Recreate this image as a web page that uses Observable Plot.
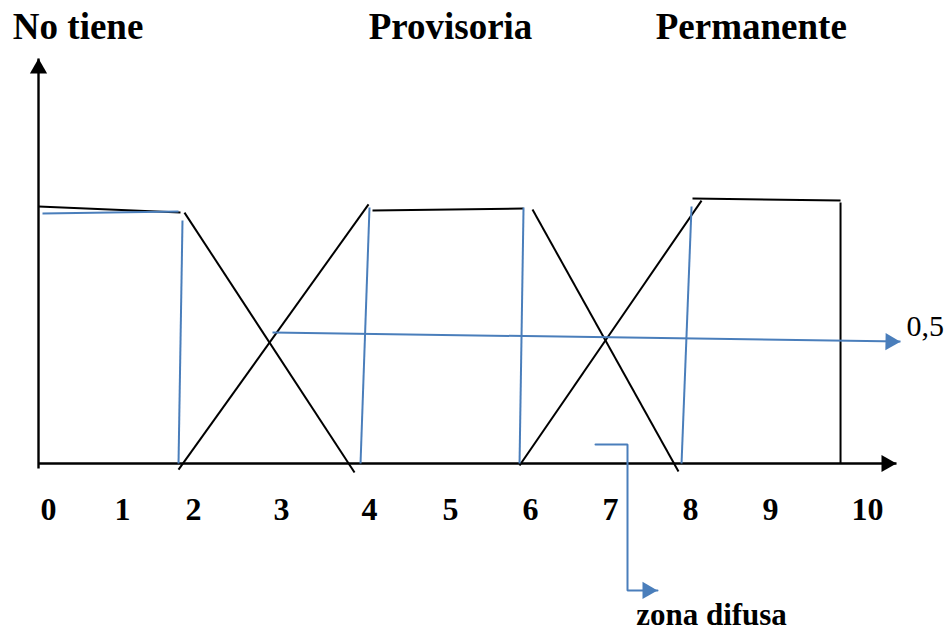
<!DOCTYPE html>
<html>
<head>
<meta charset="utf-8">
<script src="https://cdn.jsdelivr.net/npm/d3@7"></script>
<script src="https://cdn.jsdelivr.net/npm/@observablehq/plot@0.6"></script>
<style>
  html, body { margin: 0; padding: 0; background: #fff; }
  #chart svg { display: block; }
</style>
</head>
<body>
<div id="chart"></div>
<script>
// ---- data (x in axis-label units 0..10, y in membership degree 0..1) ----
const categories = ["No tiene", "Provisoria", "Permanente"];
const categoryX = [0.4, 5.0, 8.76];
const tickValues = [0, 1, 2, 3, 4, 5, 6, 7, 8, 9, 10];
const tickLabels = ["0", "1", "2", "3", "4", "5", "6", "7", "8", "9", "10"];

// black membership-function segments [x1, y1, x2, y2]
const blackSegments = [
  [-0.135, 1.008, 1.817, 0.984],   // No tiene plateau
  [1.873, 0.984, 3.830, -0.035],   // No tiene falling edge
  [1.789, -0.024, 3.989, 1.016],   // Provisoria rising edge
  [4.037, 0.992, 5.913, 1.000],    // Provisoria plateau
  [6.025, 0.996, 7.850, -0.031],   // Provisoria falling edge
  [5.863, -0.008, 8.138, 1.031],   // Permanente rising edge
  [8.025, 1.039, 9.722, 1.031],    // Permanente plateau
  [9.722, 1.024, 9.722, 0.000]     // Permanente right edge
];
// axes [x1, y1, x2, y2]
const axisSegments = [
  [-0.135, 0, 10.299, 0],
  [-0.135, -0.02, -0.135, 1.588]
];
// blue (alpha-cut) segments [x1, y1, x2, y2]
const blueSegments = [
  [-0.081, 0.980, 1.789, 0.988],
  [1.845, 0.953, 1.789, 0.000],
  [4.000, 1.004, 3.898, 0.000],
  [5.913, 1.004, 5.863, 0.000],
  [8.013, 1.008, 7.888, 0.000],
  [2.898, 0.514, 10.340, 0.478]    // 0,5 cut
];
// "zona difusa" pointer polyline
const pointerX = [6.8125, 7.2125, 7.2125, 7.5875];
const pointerY = [0.075, 0.075, -0.498, -0.498];

// arrow tips
const blackUpTip = [[-0.135, 1.588]];
const blackRightTip = [[10.299, 0]];
const blueRightTips = [[10.340, 0.478, 91], [7.5875, -0.498, 90]];

const cutLabel = "0,5";
const cutLabelPos = [10.402, 0.5];
const zoneLabel = "zona difusa";
const zoneLabelPos = [8.2625, -0.635];
const tickLabelY = -0.2235;
const titleY = 1.663;

// ---- build rows ----
const toLink = (s) => ({x1: s[0], y1: s[1], x2: s[2], y2: s[3]});
const pointer = pointerX.map((x, i) => ({x, y: pointerY[i]}));
const blue = "#4A7EBB";

const chart = Plot.plot({
  width: 948,
  height: 634,
  margin: 0,
  x: {type: "linear", domain: tickValues, range: [48, 122, 193, 281, 369, 450, 530, 610, 690, 770, 867], axis: null},
  y: {type: "linear", domain: [0, 1], range: [463, 208], axis: null},
  style: {background: "white", fontFamily: "'Liberation Serif', 'Times New Roman', serif", color: "black"},
  marks: [
    Plot.link(axisSegments.map(toLink), {x1: "x1", y1: "y1", x2: "x2", y2: "y2", stroke: "black", strokeWidth: 2.4}),
    Plot.link(blackSegments.map(toLink), {x1: "x1", y1: "y1", x2: "x2", y2: "y2", stroke: "black", strokeWidth: 2}),
    Plot.link(blueSegments.map(toLink), {x1: "x1", y1: "y1", x2: "x2", y2: "y2", stroke: blue, strokeWidth: 2}),
    Plot.line(pointer, {x: "x", y: "y", stroke: blue, strokeWidth: 2, strokeLinejoin: "miter"}),
    Plot.dot(blackUpTip, {x: d => d[0], y: d => d[1], symbol: "triangle", r: 6.4, fill: "black", stroke: "none", dy: 10}),
    Plot.dot(blackRightTip, {x: d => d[0], y: d => d[1], symbol: "triangle", r: 6.4, fill: "black", stroke: "none", rotate: 90, dx: -10}),
    Plot.dot(blueRightTips, {x: d => d[0], y: d => d[1], rotate: d => d[2], symbol: "triangle", r: 6.4, fill: blue, stroke: "none", dx: -10}),
    Plot.text(categories, {x: (d, i) => categoryX[i], y: titleY, text: d => d, fontSize: 37, fontWeight: "bold", textAnchor: "middle", lineAnchor: "bottom", fill: "black"}),
    Plot.text(tickLabels, {x: (d, i) => tickValues[i], y: tickLabelY, text: d => d, fontSize: 32, fontWeight: "bold", textAnchor: "middle", lineAnchor: "bottom", fill: "black"}),
    Plot.text([cutLabel], {x: cutLabelPos[0], y: cutLabelPos[1], text: d => d, fontSize: 30, textAnchor: "start", lineAnchor: "bottom", fill: "black"}),
    Plot.text([zoneLabel], {x: zoneLabelPos[0], y: zoneLabelPos[1], text: d => d, fontSize: 31, fontWeight: "bold", textAnchor: "middle", lineAnchor: "bottom", fill: "black"})
  ]
});
document.getElementById("chart").appendChild(chart);
</script>
</body>
</html>
